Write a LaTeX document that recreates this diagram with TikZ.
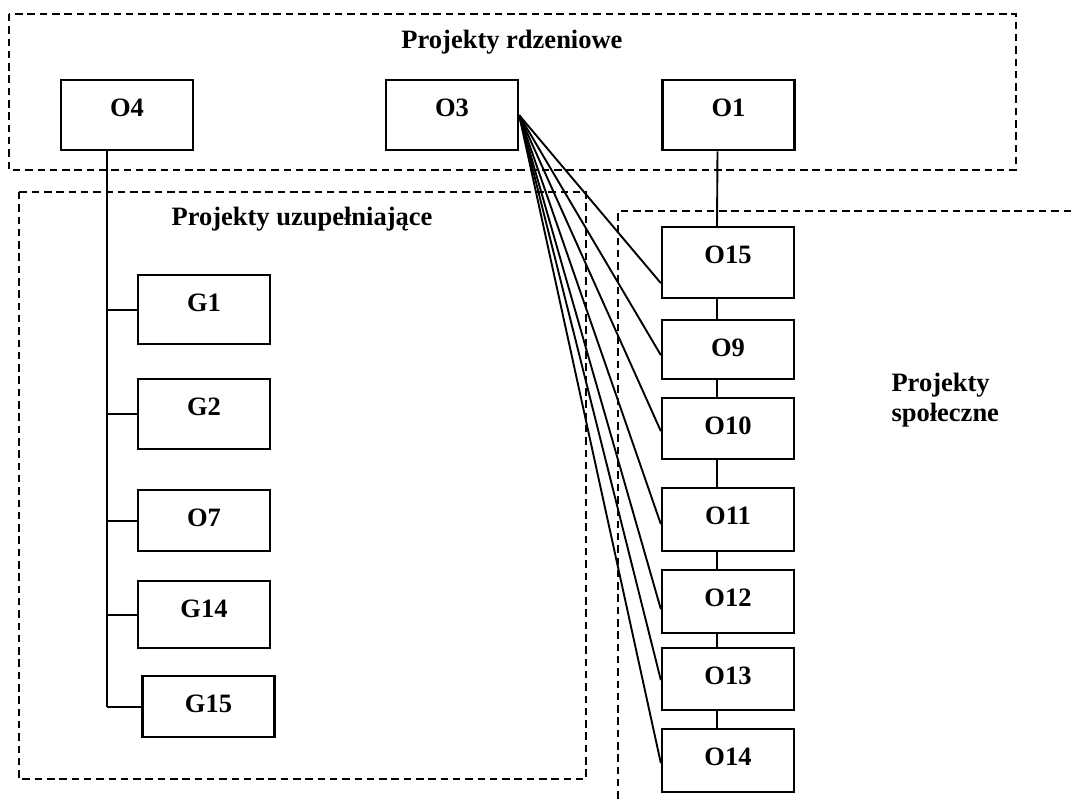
\documentclass[tikz,border=0pt]{standalone}
\usepackage{fontspec}
\setmainfont{Liberation Serif}

\begin{document}
\begin{tikzpicture}[x=1pt,y=-1pt,
    every node/.style={font=\bfseries\fontsize{26.5}{30}\selectfont},
    pbox/.style={draw, line width=2.3pt, anchor=north, inner sep=0pt, minimum width=132pt, text height=36pt, text depth=#1},
    grp/.style={line width=2pt, dash pattern=on 7.5pt off 4.8pt},
    link/.style={line width=1.9pt}]
        \useasboundingbox (0,0) rectangle (1071,799);

        % draw the dashed groups
        \draw[grp] (9,14) rectangle (1016,170);
        \draw[grp] (19,192) rectangle (586,779);
        \draw[grp] (1071,211) -- (618,211) -- (618,799);

        % group titles
        \node[anchor=base] (trdz) at (512,49) {Projekty rdzeniowe};
        \node[anchor=base] (tuzu) at (302,226) {Projekty uzupełniające};
        \node[anchor=base west, align=left] (tspo) at (888,421) {Projekty\\społeczne};

        % core projects
        \node[pbox=34pt] (O4) at (127,79) {O4};
        \node[pbox=34pt] (O3) at (452,79) {O3};
        \node[pbox=34pt] (O1) at (728.5,79) {O1};

        % complementary projects
        \node[pbox=33pt] (G1) at (204,274) {G1};
        \node[pbox=34pt] (G2) at (204,378) {G2};
        \node[pbox=25pt] (O7) at (204,489) {O7};
        \node[pbox=31pt] (G14) at (204,580) {G14};
        \node[pbox=25pt] (G15) at (208.5,675) {G15};

        % social projects
        \node[pbox=35pt] (O15) at (728,226) {O15};
        \node[pbox=23pt] (O9) at (728,319) {O9};
        \node[pbox=25pt] (O10) at (728,397) {O10};
        \node[pbox=27pt] (O11) at (728,487) {O11};
        \node[pbox=27pt] (O12) at (728,569) {O12};
        \node[pbox=26pt] (O13) at (728,647) {O13};
        \node[pbox=27pt] (O14) at (728,728) {O14};

        %O4 tree
        \coordinate (T) at ([xshift=-20pt]O4.south);
        \draw[link] (T) -- (T |- G15.west);
        \foreach \n in {G1,G2,O7,G14,G15}
            \draw[link] (T |- \n.west) -- (\n.west);

        %O1 chain
        \foreach \a/\b in {O1/O15,O15/O9,O9/O10,O10/O11,O11/O12,O12/O13,O13/O14}
            \draw[link] ([xshift=-11pt]\a.south) -- ([xshift=-11pt]\b.north);

        %O3 fan
        \foreach \n/\d in {O15/20.5,O9/5.5,O10/2.5,O11/4.5,O12/7.5,O13/1,O14/2.5}
            \draw[link] (O3.east) -- ([yshift=-\d pt]\n.west);
    \end{tikzpicture}
\end{document}
